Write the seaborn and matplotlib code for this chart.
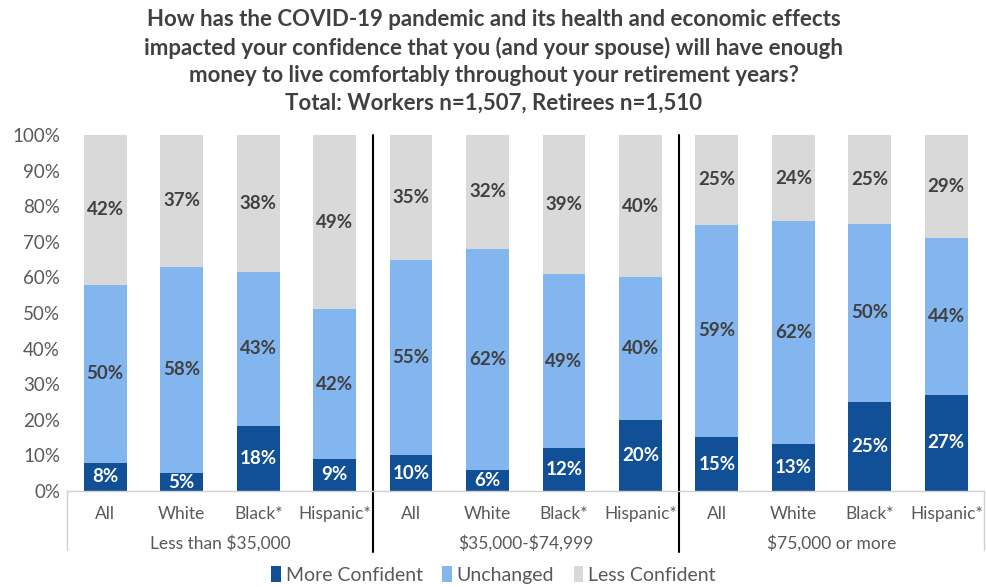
import matplotlib
matplotlib.use("Agg")
import matplotlib.pyplot as plt
import seaborn as sns
import pandas as pd
import numpy as np
from matplotlib.patches import Patch
from matplotlib.lines import Line2D
import matplotlib.transforms as mtrans

# ---- data ----
groups = ["Less than $35,000", "$35,000-$74,999", "$75,000 or more"]
subgroups = ["All", "White", "Black*", "Hispanic*"]
more_confident = [8, 5, 18, 9, 10, 6, 12, 20, 15, 13, 25, 27]
unchanged = [50, 58, 43, 42, 55, 62, 49, 40, 59, 62, 50, 44]
less_confident = [42, 37, 38, 49, 35, 32, 39, 40, 25, 24, 25, 29]
series_names = ["More Confident", "Unchanged", "Less Confident"]
title = ("How has the COVID-19 pandemic and its health and economic effects\n"
         "impacted your confidence that you (and your spouse) will have enough\n"
         "money to live comfortably throughout your retirement years?\n"
         "Total: Workers n=1,507, Retirees n=1,510")

colors = ["#114F96", "#83B5EE", "#D9D9D9"]
label_dark = "#404040"
tick_gray = "#595959"

sns.set_theme(style="white")
plt.rcParams['font.family'] = ['Lato', 'DejaVu Sans']


def esc(s):
    return s.replace("$", r"\$")


n = len(more_confident)
keys = [str(i) for i in range(n)]
xlabels = [s for g in groups for s in subgroups]
df = pd.DataFrame({
    "key": keys,
    "more": more_confident,
    "unch": unchanged,
    "less": less_confident,
})
# 100% stacked: normalise each bar by its total
tot = df["more"] + df["unch"] + df["less"]
df["p1"] = df["more"] / tot * 100
df["p2"] = (df["more"] + df["unch"]) / tot * 100
df["p3"] = tot / tot * 100

fig = plt.figure(figsize=(9.87, 5.87), dpi=100)
ax = fig.add_axes([67/987, (587-491)/587, (984.5-67)/987, 356/587])

w = 0.56
sns.barplot(data=df, x="key", y="p3", order=keys, color=colors[2], width=w,
            saturation=1, ax=ax, linewidth=0)
sns.barplot(data=df, x="key", y="p2", order=keys, color=colors[1], width=w,
            saturation=1, ax=ax, linewidth=0)
sns.barplot(data=df, x="key", y="p1", order=keys, color=colors[0], width=w,
            saturation=1, ax=ax, linewidth=0)

fs_lab = 13.5
for i in range(n):
    p1, p2, p3 = df["p1"][i], df["p2"][i], df["p3"][i]
    ax.text(i, p1/2, f"{more_confident[i]}%", ha="center", va="center", color="white",
            fontsize=fs_lab, fontweight="bold")
    ax.text(i, (p1 + p2)/2, f"{unchanged[i]}%", ha="center", va="center", color=label_dark,
            fontsize=fs_lab, fontweight="bold")
    ax.text(i, (p2 + p3)/2, f"{less_confident[i]}%", ha="center", va="center", color=label_dark,
            fontsize=fs_lab, fontweight="bold")

ax.set_xlim(-0.5, n - 0.5)
ax.set_ylim(0, 100)
ax.set_yticks(np.arange(0, 101, 10))
ax.set_yticklabels([f"{v}%" for v in range(0, 101, 10)], color=tick_gray, fontsize=13.5)
ax.set_xticks(range(n))
ax.set_xticklabels(xlabels, color=tick_gray, fontsize=12.5)
ax.tick_params(axis="x", length=0, pad=11)
ax.tick_params(axis="y", length=0, pad=5)
ax.set_xlabel("")
ax.set_ylabel("")
for s in ["top", "right", "left"]:
    ax.spines[s].set_visible(False)
ax.spines["bottom"].set_color("#D0D0D0")
ax.spines["bottom"].set_linewidth(1.0)

trans = mtrans.blended_transform_factory(ax.transData, ax.transAxes)
for xv in [-0.5, n - 0.5]:
    ax.add_line(Line2D([xv, xv], [0, -0.166], transform=trans, color="#D0D0D0",
                       lw=1.0, clip_on=False))
for xv in [3.5, 7.5]:
    ax.add_line(Line2D([xv, xv], [1.0, -0.171], transform=trans, color="black",
                       lw=1.5, clip_on=False))
for gi, g in enumerate(groups):
    ax.text(gi * 4 + 1.5, -0.146, esc(g), transform=trans, ha="center", va="center",
            color=tick_gray, fontsize=12.5)

fig.text(0.5, 0.985, title, ha="center", va="top", fontsize=16, fontweight="bold",
         color=label_dark, linespacing=1.38)

handles = [Patch(facecolor=c, edgecolor="none") for c in colors]
leg = fig.legend(handles, series_names, loc="center", bbox_to_anchor=(0.5, 1 - 575/587),
                 ncol=3, frameon=False, fontsize=14, handlelength=0.5,
                 handleheight=0.9, handletextpad=0.25, columnspacing=1.0)
for t in leg.get_texts():
    t.set_color(tick_gray)

fig.savefig("out.png", dpi=100)
